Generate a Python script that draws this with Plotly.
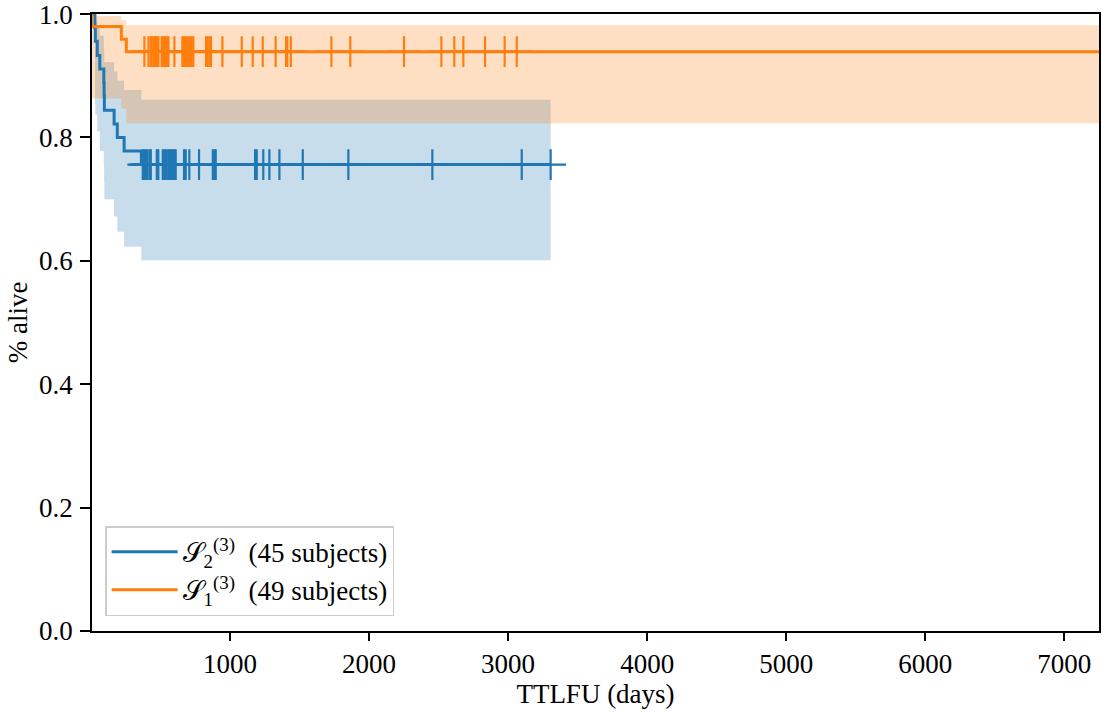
import plotly.graph_objects as go

# ---------------- data ----------------
# S2^(3): 45 subjects
s2_name = "𝒮<sub>2</sub><sup>(3)</sup>  (45 subjects)"
s2_death_days = [28, 31, 45, 63, 92, 94, 96, 166, 189, 238, 362]
s2_survival = [0.978, 0.956, 0.933, 0.911, 0.889, 0.867, 0.844, 0.822, 0.800, 0.778, 0.756]
s2_ci_upper = [0.997, 0.989, 0.978, 0.965, 0.952, 0.937, 0.922, 0.907, 0.892, 0.877, 0.861]
s2_ci_lower = [0.853, 0.837, 0.810, 0.778, 0.755, 0.728, 0.700, 0.672, 0.647, 0.623, 0.601]
s2_censor_days = [372, 382, 395, 405, 420, 430, 473, 484, 516, 527, 540, 555, 563, 576,
                  585, 597, 609, 669, 681, 707, 777, 876, 887, 897, 1180, 1192, 1239,
                  1283, 1355, 1523, 1851, 2455, 3098, 3306]

# S1^(3): 49 subjects
s1_name = "𝒮<sub>1</sub><sup>(3)</sup>  (49 subjects)"
s1_death_days = [5, 218, 254]
s1_survival = [0.980, 0.959, 0.939]
s1_ci_upper = [0.997, 0.990, 0.982]
s1_ci_lower = [0.863, 0.847, 0.823]
s1_censor_days = [384, 413, 429, 437, 449, 461, 470, 473, 485, 508, 516, 520, 528, 540,
                  549, 557, 600, 657, 665, 676, 689, 700, 712, 724, 736, 827, 837, 851,
                  863, 945, 1084, 1163, 1235, 1328, 1403, 1412, 1437, 1729, 1865, 2251,
                  2520, 2613, 2678, 2834, 2975, 3062, 7400]

x_ticks = [1000, 2000, 3000, 4000, 5000, 6000, 7000]
y_ticks = [0.0, 0.2, 0.4, 0.6, 0.8, 1.0]
y_tick_labels = ["0.0", "0.2", "0.4", "0.6", "0.8", "1.0"]

BLUE = "#1f77b4"
ORANGE = "#ff7f0e"
BLUE_FILL = "rgba(31,119,180,0.25)"
ORANGE_FILL = "rgba(255,127,14,0.25)"
FONT = "Liberation Serif"


def step_series(death_days, values, last_day):
    xs = [0] + list(death_days) + [last_day]
    ys = [1.0] + list(values) + [values[-1]]
    return xs, ys


def surv_at(day, death_days, survival):
    s = 1.0
    for d, v in zip(death_days, survival):
        if d <= day:
            s = v
    return s


fig = go.Figure()

groups = [
    (s2_name, s2_death_days, s2_survival, s2_ci_upper, s2_ci_lower, s2_censor_days, BLUE, BLUE_FILL),
    (s1_name, s1_death_days, s1_survival, s1_ci_upper, s1_ci_lower, s1_censor_days, ORANGE, ORANGE_FILL),
]

# confidence bands first (drawn under all lines)
for name, dd, sv, up, lo, cd, col, fcol in groups:
    last = max(cd)
    xu, yu = step_series(dd, up, last)
    xl, yl = step_series(dd, lo, last)
    fig.add_trace(go.Scatter(x=xu, y=yu, mode="lines", line=dict(width=0, shape="hv"),
                             hoverinfo="skip", showlegend=False))
    fig.add_trace(go.Scatter(x=xl, y=yl, mode="lines", line=dict(width=0, shape="hv"),
                             fill="tonexty", fillcolor=fcol, hoverinfo="skip", showlegend=False))

# survival curves and censor marks
for name, dd, sv, up, lo, cd, col, fcol in groups:
    last = max(cd)
    xs, ys = step_series(dd, sv, last)
    fig.add_trace(go.Scatter(x=xs, y=ys, mode="lines", name=name,
                             line=dict(color=col, width=3, shape="hv")))
    cy = [surv_at(d, dd, sv) for d in cd]
    fig.add_trace(go.Scatter(x=cd, y=cy, mode="markers", showlegend=False,
                             marker=dict(symbol="cross-thin", size=22,
                                         line=dict(color=col, width=2.2))))

axis_common = dict(
    showline=True, linecolor="black", linewidth=1.6, mirror=True,
    ticks="outside", tickcolor="black", tickwidth=1.6,
    showgrid=False, zeroline=False, automargin=False,
    ticklabeloverflow="allow",
    tickfont=dict(family=FONT, size=27, color="black"),
)

fig.update_layout(
    width=1102, height=713,
    margin=dict(l=92, r=3, t=14, b=82),
    paper_bgcolor="white", plot_bgcolor="white",
    font=dict(family=FONT, color="black"),
    xaxis=dict(range=[7, 7250], tickvals=x_ticks, ticklen=8,
               title=dict(text="TTLFU (days)", font=dict(family=FONT, size=27), standoff=2),
               **axis_common),
    yaxis=dict(range=[0, 1.0001], tickvals=y_ticks, ticktext=y_tick_labels, ticklen=10,
               ticklabelstandoff=2,
               title=dict(text="% alive", font=dict(family=FONT, size=27), standoff=4),
               **axis_common),
    legend=dict(x=0.013, y=0.024, xanchor="left", yanchor="bottom",
                traceorder="normal", itemwidth=66,
                bgcolor="rgba(255,255,255,0.8)", bordercolor="#cccccc", borderwidth=1.5,
                font=dict(family=FONT, size=27, color="black"),
                tracegroupgap=0),
    showlegend=True,
)

fig.write_html(
    "out.html",
    config={"displayModeBar": False},
    post_script="document.body.style.margin='0';document.body.style.padding='0';"
                "document.body.style.overflow='hidden';",
)
